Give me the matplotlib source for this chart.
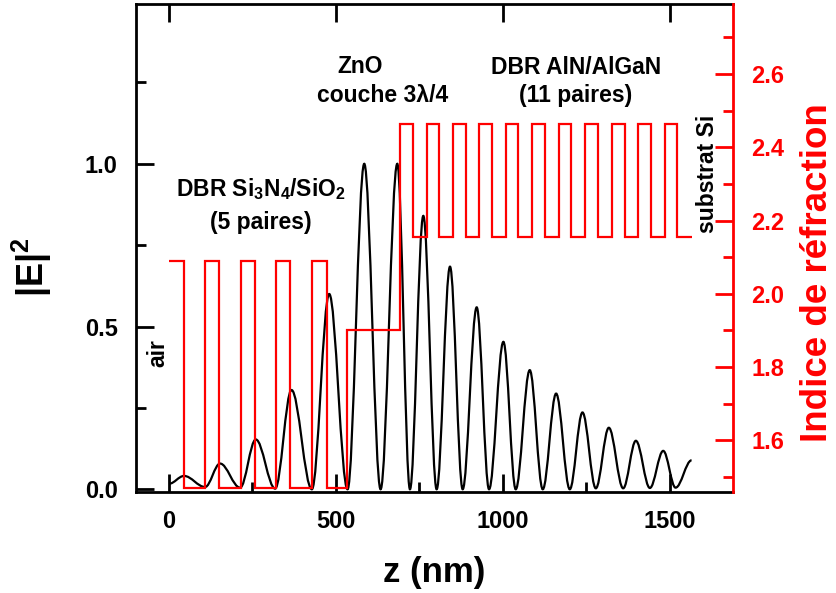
import matplotlib
matplotlib.use("Agg")
import matplotlib.pyplot as plt
from matplotlib.path import Path
from matplotlib.patches import PathPatch
from matplotlib.ticker import MultipleLocator, FormatStrFormatter

plt.rcParams['font.family'] = ['Liberation Sans', 'DejaVu Sans']
plt.rcParams['font.weight'] = 'bold'
plt.rcParams['mathtext.fontset'] = 'custom'
plt.rcParams['mathtext.rm'] = 'Liberation Sans:bold'
plt.rcParams['mathtext.it'] = 'Liberation Sans:bold'
plt.rcParams['mathtext.bf'] = 'Liberation Sans:bold'

# |E|^2 standing wave: extrema (z in nm)
field_z = [0, 45, 108, 153, 213, 260, 318, 367, 428, 480, 535, 585, 634, 684, 722,
           762, 802, 842, 880, 922, 959, 1002, 1039, 1081, 1120, 1160, 1201,
           1239, 1279, 1318, 1361, 1399, 1441, 1481, 1518, 1566]
field_e = [0.017, 0.041, 0.007, 0.079, 0.005, 0.153, 0.002, 0.305, 0.0, 0.60, 0.0,
           1.0, 0.0, 1.0, 0.0, 0.84, 0.0, 0.684, 0.0, 0.559, 0.0, 0.453, 0.0,
           0.366, 0.0, 0.294, 0.0, 0.236, 0.003, 0.189, 0.003, 0.149, 0.004,
           0.118, 0.005, 0.089]

# refractive index profile: layer boundaries (nm) and index of each layer
layer_edges = [0, 45, 108, 151, 215, 258, 321, 362, 428, 472, 534,
               692, 732, 772, 809, 852, 889, 930, 967, 1010, 1046, 1089,
               1126, 1169, 1206, 1246, 1286, 1326, 1366, 1406, 1443, 1486, 1521, 1566]
layer_n = [2.09, 1.47] * 5 + [1.90] + [2.463, 2.154] * 11


def smooth_path(xs, ys, k=0.36):
    # spline-like connection through the extrema (horizontal tangents)
    verts = [(xs[0], ys[0])]
    codes = [Path.MOVETO]
    for i in range(len(xs) - 1):
        x0, y0, x1, y1 = xs[i], ys[i], xs[i + 1], ys[i + 1]
        dx = x1 - x0
        verts += [(x0 + k * dx, y0), (x1 - k * dx, y1), (x1, y1)]
        codes += [Path.CURVE4] * 3
    return Path(verts, codes)


fig = plt.figure(figsize=(8.37, 5.93), dpi=100)
ax = fig.add_axes([0.1621, 0.1708, 0.7136, 0.8219])
ax2 = ax.twinx()

ax.add_patch(PathPatch(smooth_path(field_z, field_e), fill=False,
                       edgecolor='black', lw=1.6))
ax2.stairs(layer_n, layer_edges, baseline=None, color='red', lw=1.6)

ax.set_xlim(-100, 1690)
ax.set_ylim(-0.0075, 1.49)
ax2.set_ylim(1.46, 2.79)

ax.xaxis.set_major_locator(MultipleLocator(500))
ax.xaxis.set_minor_locator(MultipleLocator(250))
ax.yaxis.set_major_locator(MultipleLocator(0.5))
ax.yaxis.set_minor_locator(MultipleLocator(0.25))
ax.yaxis.set_major_formatter(FormatStrFormatter('%.1f'))
ax2.yaxis.set_major_locator(MultipleLocator(0.2))
ax2.yaxis.set_minor_locator(MultipleLocator(0.1))
ax2.yaxis.set_major_formatter(FormatStrFormatter('%.1f'))

for s in ['left', 'bottom', 'top']:
    ax.spines[s].set_linewidth(2)
ax.spines['right'].set_visible(False)
for s in ['left', 'bottom', 'top']:
    ax2.spines[s].set_visible(False)
ax2.spines['right'].set_color('red')
ax2.spines['right'].set_linewidth(2)

ax.tick_params(which='major', direction='in', length=13, width=2, top=True,
               right=False, labelsize=17, pad=13)
ax.tick_params(which='minor', direction='in', length=7, width=2, top=False,
               right=False)
ax2.tick_params(which='major', direction='in', length=13, width=2, color='red',
                labelcolor='red', labelsize=17, pad=13)
ax2.tick_params(which='minor', direction='in', length=7, width=2, color='red')

ax.set_xlabel('z (nm)', fontsize=25, fontweight='bold', labelpad=17)
ax.set_ylabel('|E|$^2$', fontsize=26, fontweight='bold')
ax.yaxis.set_label_coords(-0.137, 0.46)
ax2.set_ylabel('Indice de réfraction', fontsize=26.5, fontweight='bold',
               color='red')
ax2.yaxis.set_label_coords(1.112, 0.45)

txt = dict(fontsize=16.5, ha='center', va='center')
ax.text(572, 1.30, 'ZnO', **txt)
ax.text(641, 1.21, 'couche 3λ/4', **txt)
ax.text(1219, 1.296, 'DBR AlN/AlGaN', **txt)
ax.text(1219, 1.21, '(11 paires)', **txt)
ax.text(276, 0.921, 'DBR Si$_3$N$_4$/SiO$_2$', **txt)
ax.text(276, 0.82, '(5 paires)', **txt)
ax.text(-33, 0.42, 'air', rotation=90, **txt)
ax.text(1614, 0.97, 'substrat Si', rotation=90, **txt)

fig.savefig('out.png', dpi=100)
